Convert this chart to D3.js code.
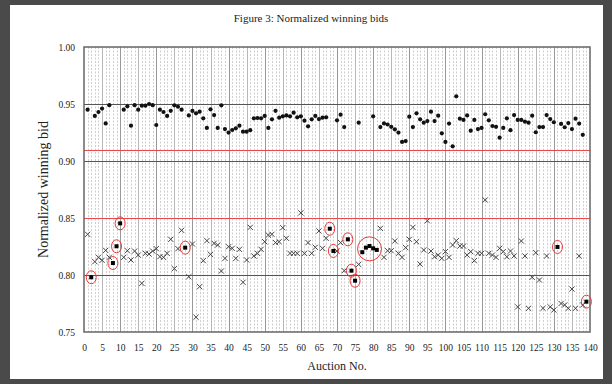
<!DOCTYPE html>
<html>
<head>
<meta charset="utf-8">
<script src="https://cdn.jsdelivr.net/npm/d3@7"></script>
<style>
  html, body { margin: 0; padding: 0; background: #4a4a4a; }
  svg { display: block; }
</style>
</head>
<body>
<svg id="chart" width="612" height="384"></svg>
<script>
// upper series: auction number / normalized winning bid (dots)
const dotAuction = [1,3,4,5,6,7,11,12,13,14,15,16,17,18,19,20,21,22,23,24,25,26,27,29,30,31,32,33,34,35,36,37,38,39,40,41,42,43,44,45,46,47,48,49,50,51,52,53,54,55,56,57,58,59,60,61,62,63,64,65,66,67,70,71,72,76,80,82,83,84,85,86,87,88,89,90,91,92,93,94,95,96,97,98,99,100,101,102,103,104,105,106,107,108,109,110,111,112,113,114,115,116,117,118,119,120,121,122,123,124,125,126,127,128,129,130,132,133,134,135,136,137,138]
const dotValue = [.945,.9395,.943,.946,.933,.949,.945,.948,.931,.949,.945,.9485,.9485,.950,.949,.9316,.945,.943,.9395,.944,.9488,.9476,.945,.940,.9439,.9418,.9433,.9374,.929,.9453,.9403,.929,.9488,.928,.9249,.9272,.9287,.931,.9257,.9257,.927,.9374,.9377,.9374,.9395,.929,.9366,.944,.938,.9392,.940,.9392,.9424,.9383,.9392,.9354,.9304,.9366,.9395,.9368,.938,.9383,.9357,.9406,.9298,.9336,.9392,.9298,.933,.932,.930,.9278,.9249,.9167,.9175,.9389,.9298,.9418,.9366,.9336,.935,.9433,.935,.9398,.9243,.9167,.9328,.9129,.9567,.9371,.936,.940,.9266,.936,.928,.929,.941,.9357,.9307,.930,.9205,.929,.9374,.927,.9403,.936,.936,.9345,.9336,.9398,.9252,.9298,.9298,.9403,.9368,.934,.9325,.9296,.9333,.928,.9371,.9328,.923]

// lower series (crosses)
const crossAuction = [1,3,4,5,6,7,11,12,13,14,15,16,17,18,19,20,21,22,23,24,25,26,27,29,30,31,32,33,34,35,36,37,38,39,40,41,42,43,44,45,46,47,48,49,50,51,52,53,54,55,56,57,58,59,60,61,62,63,64,65,66,67,70,71,72,76,82,83,84,85,86,87,88,89,90,91,92,93,94,95,96,97,98,99,100,101,102,103,104,105,106,107,108,109,110,111,112,113,114,115,116,117,118,119,120,121,122,123,124,125,126,127,128,129,130,132,133,134,135,136,137,138]
const crossValue = [.8357,.8117,.8155,.8129,.8216,.8155,.8155,.8213,.8132,.821,.8175,.7927,.819,.8184,.821,.8231,.8161,.8155,.819,.8313,.8056,.8231,.8392,.7985,.8272,.763,.7898,.8126,.8301,.8181,.8278,.8263,.8035,.8146,.8248,.8234,.8146,.8225,.7936,.8132,.8418,.8167,.819,.8225,.8292,.835,.8357,.8284,.8292,.8415,.8322,.819,.819,.819,.8545,.819,.8284,.819,.8243,.8386,.8234,.8322,.821,.8284,.8038,.8093,.8409,.8155,.8213,.8213,.8298,.819,.8155,.824,.8313,.8418,.8292,.8096,.8219,.8476,.821,.816,.8175,.8146,.8205,.8155,.8263,.8301,.8254,.8254,.8175,.8205,.8126,.819,.819,.8658,.819,.8175,.8155,.8234,.8205,.816,.821,.8167,.772,.8298,.8167,.7708,.798,.8196,.7956,.7708,.8167,.772,.7693,.775,.7737,.7708,.7877,.7708,.8167,.7737]

// highlighted auctions (filled squares, circled in red)
const markAuction = [2,8,9,10,28,68,69,73,74,75,77,78,79,80,81,131,139]
const markValue = [.798,.8105,.8252,.8453,.824,.8406,.8211,.8313,.8038,.795,.820,.824,.8254,.8234,.822,.8246,.7766]
const groupAuction = [77,78,79,80,81]   // ringed together with one big circle

const redLines = [0.91, 0.85]
const greyLines = [0.95, 0.90, 0.80]
const yTicks = [0.75, 0.80, 0.85, 0.90, 0.95, 1.00]
const xTicks = d3.range(0, 141, 5)

const svg = d3.select('#chart')
const margin = { top: 47, right: 22, bottom: 52, left: 84 }
const width = 612 - margin.left - margin.right
const height = 384 - margin.top - margin.bottom
const serif = '"Liberation Serif", "DejaVu Serif", serif'

// page
svg.append('rect')
  .attr('x', 10).attr('y', 5)
  .attr('width', 593).attr('height', 374)
  .attr('fill', '#fff')

svg.append('text')
  .attr('x', 311).attr('y', 22)
  .attr('text-anchor', 'middle')
  .attr('font-family', serif).attr('font-size', 11)
  .attr('fill', '#222')
  .text('Figure 3:  Normalized winning bids')

const g = svg.append('g').attr('transform', `translate(${margin.left},${margin.top})`)

const x = d3.scaleLinear().domain([0, 140]).range([0, width])
const y = d3.scaleLinear().domain([0.75, 1.0]).range([height, 0])

// minor dashed verticals
g.append('g')
  .selectAll('line')
  .data(d3.range(1, 140).filter(d => d % 5 !== 0))
  .join('line')
  .attr('x1', d => Math.round(x(d)) + 0.5).attr('x2', d => Math.round(x(d)) + 0.5)
  .attr('y1', 0).attr('y2', height)
  .attr('stroke', '#cfcfcf').attr('stroke-width', 1)
  .attr('stroke-dasharray', '2,1.5')

// major verticals
g.append('g')
  .selectAll('line')
  .data(d3.range(5, 140, 5))
  .join('line')
  .attr('x1', d => Math.round(x(d)) + 0.5).attr('x2', d => Math.round(x(d)) + 0.5)
  .attr('y1', 0).attr('y2', height)
  .attr('stroke', d => d % 10 === 0 ? '#999' : '#b8b8b8').attr('stroke-width', 1)

// horizontal reference lines
g.append('g')
  .selectAll('line')
  .data(greyLines)
  .join('line')
  .attr('x1', 0).attr('x2', width)
  .attr('y1', d => Math.round(y(d)) + 0.5).attr('y2', d => Math.round(y(d)) + 0.5)
  .attr('stroke', '#555').attr('stroke-width', 1)

g.append('g')
  .selectAll('line')
  .data(redLines)
  .join('line')
  .attr('x1', 0).attr('x2', width)
  .attr('y1', d => Math.round(y(d)) + 0.5).attr('y2', d => Math.round(y(d)) + 0.5)
  .attr('stroke', '#e8484a').attr('stroke-width', 1.2)

// frame
g.append('rect')
  .attr('x', 0).attr('y', 0)
  .attr('width', width).attr('height', height)
  .attr('fill', 'none').attr('stroke', '#666').attr('stroke-width', 1.5)

// axes (labels only, no tick marks)
const xAxis = g.append('g')
  .attr('transform', `translate(0,${height})`)
  .call(d3.axisBottom(x).tickValues(xTicks).tickSize(0).tickPadding(12))
xAxis.select('.domain').remove()
xAxis.selectAll('text').attr('font-family', serif).attr('font-size', 9.5).attr('fill', '#222')

const yAxis = g.append('g')
  .call(d3.axisLeft(y).tickValues(yTicks).tickFormat(d3.format('.2f')).tickSize(0).tickPadding(9))
yAxis.select('.domain').remove()
yAxis.selectAll('text').attr('font-family', serif).attr('font-size', 9.5).attr('fill', '#222')

svg.append('text')
  .attr('transform', `translate(48,${margin.top + height / 2}) rotate(-90)`)
  .attr('text-anchor', 'middle')
  .attr('font-family', serif).attr('font-size', 14)
  .attr('fill', '#222')
  .text('Normalized winning bid')

svg.append('text')
  .attr('x', margin.left + width / 2).attr('y', 370)
  .attr('text-anchor', 'middle')
  .attr('font-family', serif).attr('font-size', 12)
  .attr('fill', '#222')
  .text('Auction No.')

// dots
g.append('g')
  .selectAll('circle')
  .data(dotAuction.map((a, i) => [a, dotValue[i]]))
  .join('circle')
  .attr('cx', d => x(d[0])).attr('cy', d => y(d[1]))
  .attr('r', 2.1).attr('fill', '#111')

// crosses
const cs = 2.6
g.append('g')
  .selectAll('path')
  .data(crossAuction.map((a, i) => [a, crossValue[i]]))
  .join('path')
  .attr('d', d => {
    const px = x(d[0]), py = y(d[1])
    return `M${px - cs},${py - cs}L${px + cs},${py + cs}M${px - cs},${py + cs}L${px + cs},${py - cs}`
  })
  .attr('stroke', '#444').attr('stroke-width', 1).attr('fill', 'none')

// highlighted squares
const marks = markAuction.map((a, i) => [a, markValue[i]])
g.append('g')
  .selectAll('rect')
  .data(marks)
  .join('rect')
  .attr('x', d => x(d[0]) - 2).attr('y', d => y(d[1]) - 2)
  .attr('width', 4).attr('height', 4)
  .attr('fill', '#000')

g.append('g')
  .selectAll('ellipse')
  .data(marks.filter(d => !groupAuction.includes(d[0])))
  .join('ellipse')
  .attr('cx', d => x(d[0])).attr('cy', d => y(d[1]))
  .attr('rx', 5).attr('ry', 6.5)
  .attr('fill', 'none').attr('stroke', '#e8383a').attr('stroke-width', 1)

const grp = marks.filter(d => groupAuction.includes(d[0]))
g.append('circle')
  .attr('cx', x(d3.mean(grp, d => d[0])))
  .attr('cy', y(d3.mean(grp, d => d[1])))
  .attr('r', 12)
  .attr('fill', 'none').attr('stroke', '#e8383a').attr('stroke-width', 1)
</script>
</body>
</html>
